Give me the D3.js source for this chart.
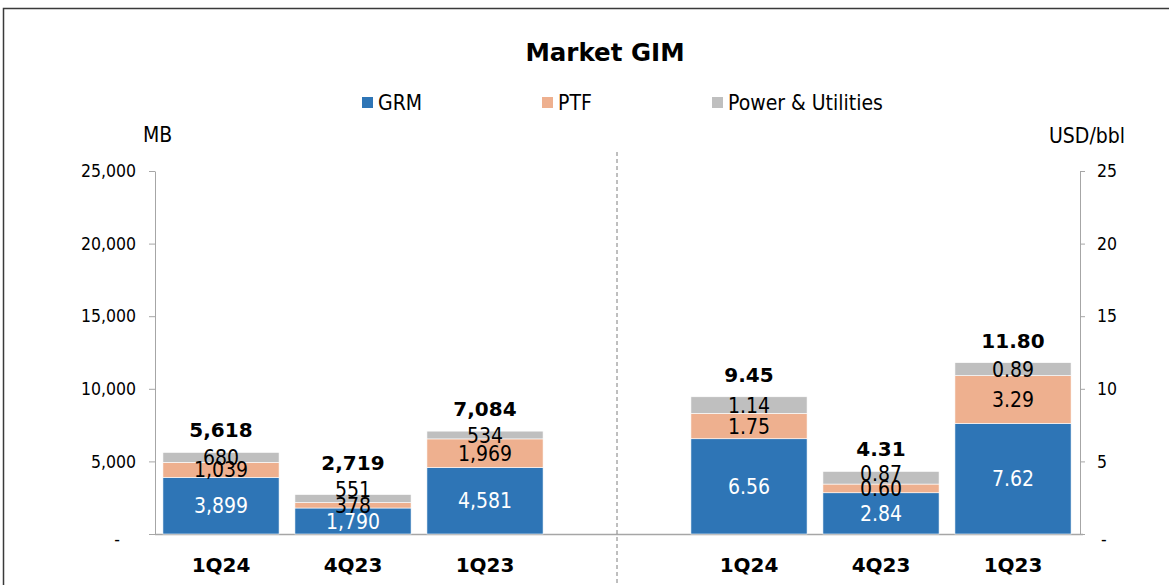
<!DOCTYPE html>
<html>
<head>
<meta charset="utf-8">
<script src="https://cdn.jsdelivr.net/npm/d3@7"></script>
<style>
  html, body { margin: 0; padding: 0; background: #fff; }
  svg { display: block; font-family: "DejaVu Sans Condensed", "DejaVu Sans", sans-serif; font-stretch: condensed; }
  .wide { font-family: "DejaVu Sans", sans-serif; font-stretch: normal; font-weight: bold; }
</style>
</head>
<body>
<div id="chart"></div>
<script>
// quarters, same for both panels
const categories = ['1Q24', '4Q23', '1Q23'];
const seriesNames = ['GRM', 'PTF', 'Power & Utilities'];

// left panel, MB
const grmMB = [3899, 1790, 4581];
const ptfMB = [1039, 378, 1969];
const puMB = [680, 551, 534];
const totalMB = [5618, 2719, 7084];

// right panel, USD/bbl
const grmUSD = [6.56, 2.84, 7.62];
const ptfUSD = [1.75, 0.60, 3.29];
const puUSD = [1.14, 0.87, 0.89];
const totalUSD = [9.45, 4.31, 11.80];

const leftTicks = [0, 5000, 10000, 15000, 20000, 25000];
const rightTicks = [0, 5, 10, 15, 20, 25];

const colors = ['#2e75b6', '#eeb08f', '#bfbfbf'];

const width = 1169, height = 585;
const svg = d3.select('#chart').append('svg')
    .attr('width', width)
    .attr('height', height);

// outer frame
svg.append('rect')
    .attr('x', 3.5).attr('y', 8.5)
    .attr('width', 1200).attr('height', 620)
    .attr('fill', 'none')
    .attr('stroke', '#3a3a3a')
    .attr('stroke-width', 1.5);

svg.append('text')
    .attr('class', 'wide')
    .attr('x', 605).attr('y', 61)
    .attr('text-anchor', 'middle')
    .attr('font-size', 24.5)
    .text('Market GIM');

// legend
const legendX = [362, 542, 712];
const legend = svg.append('g');
seriesNames.forEach((name, i) => {
    legend.append('rect')
        .attr('x', legendX[i]).attr('y', 97)
        .attr('width', 11).attr('height', 11)
        .attr('fill', colors[i]);
    legend.append('text')
        .attr('x', legendX[i] + 16).attr('y', 110)
        .attr('font-size', 21)
        .text(name);
});

svg.append('text').attr('x', 143).attr('y', 142).attr('font-size', 21).text('MB');
svg.append('text').attr('x', 1125).attr('y', 143).attr('font-size', 21)
    .attr('text-anchor', 'end').text('USD/bbl');

// one band axis with an empty slot between the two panels
const slots = categories.map(c => 'MB|' + c)
    .concat(['gap'])
    .concat(categories.map(c => 'USD|' + c));

const x = d3.scaleBand()
    .domain(slots)
    .range([155, 1079])
    .paddingInner(0.12)
    .paddingOuter(0.06);

const yL = d3.scaleLinear().domain([0, 25000]).range([534, 171]);
const yR = d3.scaleLinear().domain([0, 25]).range([534, 171]);

const axisColor = '#a6a6a6';

const leftAxis = svg.append('g')
    .attr('transform', 'translate(155,0)')
    .call(d3.axisLeft(yL)
        .tickValues(leftTicks)
        .tickSize(6)
        .tickSizeOuter(0)
        .tickPadding(13)
        .tickFormat(d => d === 0 ? '-' : d3.format(',')(d)));

const rightAxis = svg.append('g')
    .attr('transform', 'translate(1080,0)')
    .call(d3.axisRight(yR)
        .tickValues(rightTicks)
        .tickSize(5)
        .tickSizeOuter(0)
        .tickPadding(12)
        .tickFormat(d => d === 0 ? '-' : d3.format(',')(d)));

[leftAxis, rightAxis].forEach(ax => {
    ax.attr('font-family', null).attr('font-size', null);
    ax.select('.domain').attr('stroke', axisColor);
    ax.selectAll('.tick line').attr('stroke', axisColor);
    ax.selectAll('.tick text').attr('fill', '#000').attr('font-size', 17.5);
});
// accounting style dash sits off the number column
leftAxis.selectAll('.tick text').filter(d => d === 0).attr('dx', -16).attr('dy', '0.6em');
rightAxis.selectAll('.tick text').filter(d => d === 0).attr('dx', 4).attr('dy', '0.6em');

// baseline
svg.append('line')
    .attr('x1', 155).attr('x2', 1083)
    .attr('y1', 534.5).attr('y2', 534.5)
    .attr('stroke', axisColor).attr('stroke-width', 1.5);

// dashed divider
const gapX = x('gap') + x.bandwidth() / 2;
svg.append('line')
    .attr('x1', gapX).attr('x2', gapX)
    .attr('y1', 152).attr('y2', 585)
    .attr('stroke', '#7f7f7f')
    .attr('stroke-dasharray', '4,3');

function drawPanel(key, y, series, totals, fmt) {
    const rows = categories.map((c, i) => {
        const row = { cat: c, slot: key + '|' + c, total: totals[i] };
        series.forEach((s, j) => { row[seriesNames[j]] = s[i]; });
        return row;
    });
    const stacked = d3.stack().keys(seriesNames)(rows);

    const g = svg.append('g');
    const layers = g.selectAll('g.layer')
        .data(stacked)
        .join('g')
        .attr('class', 'layer')
        .attr('fill', (d, i) => colors[i]);

    layers.selectAll('rect')
        .data(d => d)
        .join('rect')
        .attr('x', d => x(d.data.slot))
        .attr('width', x.bandwidth())
        .attr('y', d => y(d[1]))
        .attr('height', d => y(d[0]) - y(d[1]))
        .attr('stroke', '#fff')
        .attr('stroke-width', 0.6);

    // segment labels
    stacked.forEach((layer, j) => {
        g.selectAll(null)
            .data(layer)
            .join('text')
            .attr('x', d => x(d.data.slot) + x.bandwidth() / 2)
            .attr('y', d => {
                let cy = (y(d[0]) + y(d[1])) / 2;
                // 4Q23 power labels were dragged up in the source
                if (key === 'MB' && d.data.cat === '4Q23' && j === 2) cy -= 9;
                if (key === 'USD' && d.data.cat === '4Q23' && j === 2) cy -= 4;
                return cy;
            })
            .attr('dy', '0.36em')
            .attr('text-anchor', 'middle')
            .attr('font-size', 21)
            .attr('fill', j === 0 ? '#fff' : '#000')
            .text(d => fmt(d.data[seriesNames[j]]));
    });

    // totals
    g.selectAll('text.total')
        .data(rows)
        .join('text')
        .attr('class', 'total wide')
        .attr('x', d => x(d.slot) + x.bandwidth() / 2)
        .attr('y', d => y(d.total) - 15 - (key === 'MB' && d.cat === '4Q23' ? 10 : 0))
        .attr('text-anchor', 'middle')
        .attr('font-size', 20)
        .text(d => fmt(d.total));

    // category labels
    g.selectAll('text.cat')
        .data(rows)
        .join('text')
        .attr('class', 'cat wide')
        .attr('x', d => x(d.slot) + x.bandwidth() / 2)
        .attr('y', 572)
        .attr('text-anchor', 'middle')
        .attr('font-size', 20)
        .text(d => d.cat);
}

drawPanel('MB', yL, [grmMB, ptfMB, puMB], totalMB, d3.format(','));
drawPanel('USD', yR, [grmUSD, ptfUSD, puUSD], totalUSD, d3.format('.2f'));
</script>
</body>
</html>
